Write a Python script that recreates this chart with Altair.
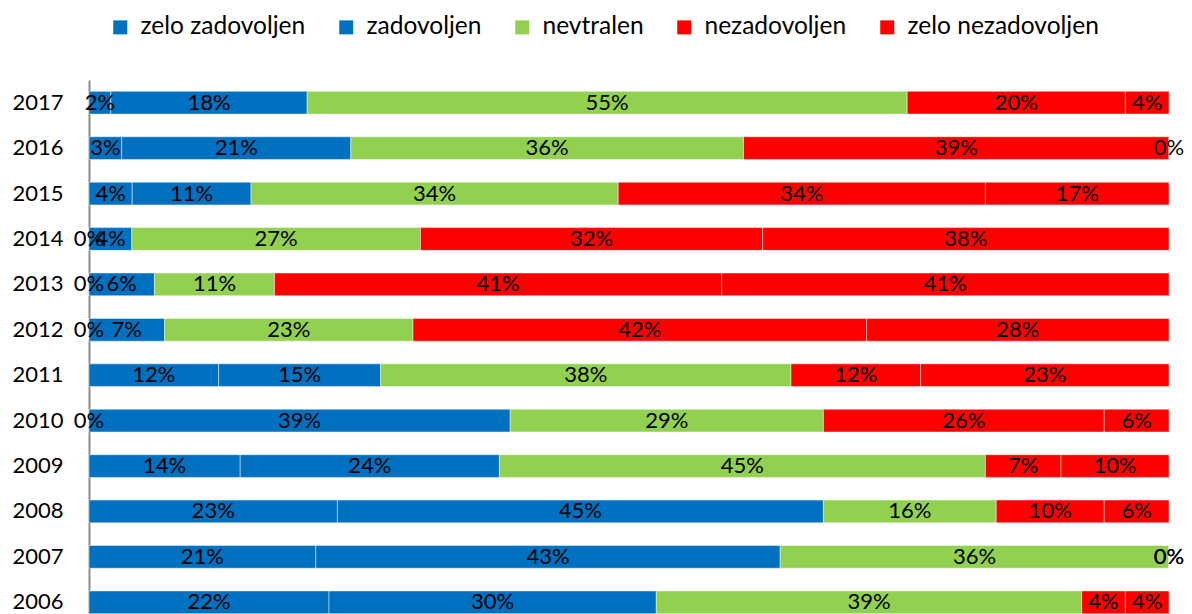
import altair as alt
import pandas as pd

years = ["2017", "2016", "2015", "2014", "2013", "2012", "2011", "2010", "2009", "2008", "2007", "2006"]
categories = ["zelo zadovoljen", "zadovoljen", "nevtralen", "nezadovoljen", "zelo nezadovoljen"]
colors = ["#0070C0", "#0070C0", "#92D050", "#FF0000", "#FF0000"]

zelo_zadovoljen = [2, 3, 4, 0, 0, 0, 12, 0, 14, 23, 21, 22]
zadovoljen = [18, 21, 11, 4, 6, 7, 15, 39, 24, 45, 43, 30]
nevtralen = [55, 36, 34, 27, 11, 23, 38, 29, 45, 16, 36, 39]
nezadovoljen = [20, 39, 34, 32, 41, 42, 12, 26, 7, 10, 0, 4]
zelo_nezadovoljen = [4, 0, 17, 38, 41, 28, 23, 6, 10, 6, 0, 4]

series = [zelo_zadovoljen, zadovoljen, nevtralen, nezadovoljen, zelo_nezadovoljen]
rows = []
for ci, (cat, vals) in enumerate(zip(categories, series)):
    for y, v in zip(years, vals):
        rows.append({"year": y, "category": cat, "value": v, "order": ci})
df = pd.DataFrame(rows)

FONT = "Lato"

base = (
    alt.Chart(df)
    .transform_joinaggregate(total="sum(value)", groupby=["year"])
    .transform_calculate(pct="datum.value / datum.total", label="datum.value + '%'")
    .transform_stack(stack="pct", as_=["x0", "x1"], groupby=["year"], sort=[alt.SortField("order")])
    .transform_calculate(mid="(datum.x0 + datum.x1) / 2")
)

yenc = alt.Y(
    "year:N",
    sort=years,
    scale=alt.Scale(paddingInner=0.5, paddingOuter=0.25),
    axis=alt.Axis(
        title=None,
        ticks=False,
        domainColor="#8C8C8C",
        domainWidth=2,
        labelFont=FONT,
        labelFontSize=22,
        labelColor="black",
        labelPadding=26,
    ),
)

bars = base.mark_bar(stroke="white", strokeWidth=1, strokeOpacity=0.45).encode(
    x=alt.X("x0:Q", scale=alt.Scale(domain=[0, 1], nice=False), axis=None),
    x2="x1:Q",
    y=yenc,
    color=alt.Color(
        "category:N",
        scale=alt.Scale(domain=categories, range=colors),
        legend=alt.Legend(
            title=None,
            orient="none",
            legendX=19,
            legendY=-65,
            direction="horizontal",
            symbolType="square",
            symbolSize=196,
            symbolStrokeWidth=0,
            labelFont=FONT,
            labelFontSize=24.5,
            labelColor="black",
            labelOffset=8,
            labelLimit=0,
            columnPadding=28,
        ),
    ),
    order=alt.Order("order:Q"),
)

text = base.mark_text(font=FONT, fontSize=22, color="black", baseline="middle", align="center").encode(
    x=alt.X("mid:Q", scale=alt.Scale(domain=[0, 1], nice=False), axis=None),
    y=alt.Y("year:N", sort=years),
    text="label:N",
)

chart = (
    alt.layer(bars, text)
    .properties(
        width=1080,
        height=545,
        autosize=alt.AutoSizeParams(type="none"),
        padding={"left": 81, "top": 72, "right": 15, "bottom": 0},
    )
    .configure_view(stroke=None)
)

chart.save("out.html", embed_options={"renderer": "svg", "actions": False})
